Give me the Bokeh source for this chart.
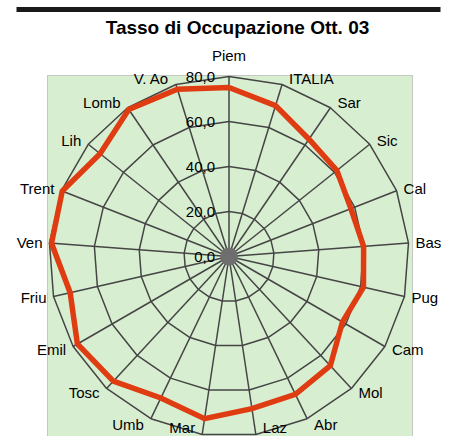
import numpy as np
from bokeh.plotting import figure
from bokeh.models import Range1d, ColumnDataSource
from bokeh.embed import file_html
from bokeh.resources import INLINE
from bokeh.core.properties import value

# ---------------- data ----------------
title_text = "Tasso di Occupazione Ott. 03"
categories = ["Piem", "ITALIA", "Sar", "Sic", "Cal", "Bas", "Pug", "Cam", "Mol",
              "Abr", "Laz", "Mar", "Umb", "Tosc", "Emil", "Friu", "Ven", "Trent",
              "Lih", "Lomb", "V. Ao"]
values = [75.1, 70.2, 63.1, 61.3, 58.2, 60.0, 61.3, 58.2, 66.2,
          68.0, 68.4, 72.9, 69.8, 75.6, 77.8, 72.4, 79.1, 79.6,
          73.3, 79.1, 77.8]
ring_values = [0, 20, 40, 60, 80]
ring_labels = ["0,0", "20,0", "40,0", "60,0", "80,0"]
r_max = 80

# ---------------- layout (pixels) ----------------
W, H = 450, 436
S = 2.25                 # pixels per value unit
CX, CY = 228.5, 256.0    # centre of the radar in figure pixels

def px2x(px):
    return (px - CX) / S

def px2y(py):
    return (CY - py) / S

p = figure(width=W, height=H, output_backend="svg", toolbar_location=None,
           x_range=Range1d(px2x(0), px2x(W)), y_range=Range1d(px2y(H), px2y(0)),
           x_axis_location=None, y_axis_location=None, min_border=0,
           background_fill_color="white", border_fill_color="white")
p.outline_line_color = None
p.grid.visible = False

FONT = value("Liberation Sans")

# top rule
p.line([px2x(16), px2x(440)], [px2y(9), px2y(9)], line_color="#1a1a1a", line_width=5)

# title
p.text([px2x(237)], [px2y(27)], text=[title_text], text_font=FONT,
       text_font_size="19px", text_font_style="bold", text_align="center",
       text_baseline="middle", text_color="black")

# green plot area
p.quad(left=px2x(47), right=px2x(412), top=px2y(75), bottom=px2y(H + 20),
       fill_color="#d8eed1", line_color="#9a9a9a", line_dash="1 1", line_width=1)

n = len(categories)
theta = np.arange(n) * 2 * np.pi / n
sx, cy = np.sin(theta), np.cos(theta)

GRID = "#454545"
# rings (polygons)
for rv in ring_values[1:]:
    xs = list(rv * sx) + [rv * sx[0]]
    ys = list(rv * cy) + [rv * cy[0]]
    p.line(xs, ys, line_color=GRID, line_width=1.5)

# spokes
p.multi_line([[0, r_max * a] for a in sx], [[0, r_max * b] for b in cy],
             line_color=GRID, line_width=1.5)
p.scatter([0], [0], size=18, fill_color="#6e6e6e", line_color=None)

# data polygon
v = np.array(values)
dx = list(v * sx) + [v[0] * sx[0]]
dy = list(v * cy) + [v[0] * cy[0]]
p.line(dx, dy, line_color="#e03c12", line_width=5.5, line_join="miter")

# category labels
LABEL_MAX_Y = 427        # keep the lowest labels inside the picture
aligns, xoffs, yoffs = [], [], []
for a, b in zip(sx, cy):
    end_py = CY - r_max * S * b
    if abs(a) < 1e-6:
        aligns.append("center"); xoffs.append(0); yo = -21 if b > 0 else 21
    else:
        aligns.append("left" if a > 0 else "right")
        xoffs.append(7 if a > 0 else -7)
        yo = -6 * b
    yo = min(yo, LABEL_MAX_Y - end_py)
    yoffs.append(yo)
lab_src = ColumnDataSource(dict(x=r_max * sx, y=r_max * cy, t=categories,
                                al=aligns, xo=xoffs, yo=yoffs))
p.text("x", "y", text="t", source=lab_src, text_align="al", x_offset="xo",
       y_offset="yo", text_baseline="middle", text_font=FONT,
       text_font_size="15px", text_color="black")

# radial value labels
p.text([0] * len(ring_values), ring_values, text=ring_labels, text_font=FONT,
       text_font_size="15px", text_align="right", text_baseline="middle",
       x_offset=-14, text_color="black")

open("out.html", "w").write(file_html(p, INLINE))
